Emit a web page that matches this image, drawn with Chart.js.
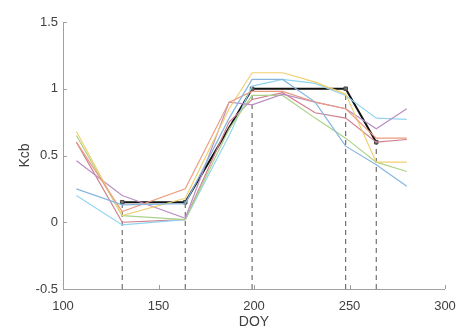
<!DOCTYPE html>
<html>
<head>
<meta charset="utf-8">
<script src="https://cdn.jsdelivr.net/npm/chart.js@4"></script>
<style>
  html, body { margin: 0; padding: 0; background: #fff; }
  #wrap { width: 460px; height: 332px; }
</style>
</head>
<body>
<div id="wrap"><canvas id="kcbChart" width="460" height="332"></canvas></div>
<script>
// day of year for the observed curves
const doy = [107, 131, 164, 187, 199, 215, 232, 248, 264, 280];

// observed Kcb curves (one per field / year)
const yellowVals = [0.68, 0.05, 0.18, 0.85, 1.12, 1.12, 1.05, 0.96, 0.45, 0.45];
const orangeVals = [0.60, 0.08, 0.25, 0.90, 0.98, 0.98, 0.90, 0.85, 0.63, 0.63];
const purpleVals = [0.46, 0.20, 0.03, 0.90, 0.88, 0.96, 0.90, 0.85, 0.70, 0.85];
const blueVals   = [0.25, 0.13, 0.14, 0.78, 1.07, 1.07, 0.90, 0.57, 0.43, 0.27];
const greenVals  = [0.65, 0.05, 0.02, 0.70, 0.95, 0.95, 0.78, 0.63, 0.45, 0.38];
const cyanVals   = [0.20, -0.02, 0.02, 0.65, 1.02, 1.07, 1.04, 0.95, 0.78, 0.77];
const redVals    = [0.60, 0.00, 0.02, 0.75, 0.92, 0.97, 0.82, 0.78, 0.60, 0.62];

// fitted crop coefficient curve (stage boundaries)
const kcbDoy    = [131, 164, 199, 248, 264];
const kcbValues = [0.15, 0.15, 1.0, 1.0, 0.6];

// tick labels
const xTicks = [100, 150, 200, 250, 300];
const yTicks = [-0.5, 0, 0.5, 1, 1.5];

const curves = [
    { vals: blueVals,   color: '#86b6de' },
    { vals: orangeVals, color: '#eb9c80' },
    { vals: yellowVals, color: '#f1cf72' },
    { vals: purpleVals, color: '#b98ec4' },
    { vals: greenVals,  color: '#acd289' },
    { vals: cyanVals,   color: '#93d5f0' },
    { vals: redVals,    color: '#cf7f8e' }
];

const datasets = [];

curves.forEach(c => {
    datasets.push({
        data: doy.map((d, i) => ({ x: d, y: c.vals[i] })),
        borderColor: c.color,
        borderWidth: 1.2,
        pointRadius: 0,
        tension: 0
    });
});

// dashed drop lines from each stage point
kcbDoy.forEach((d, i) => {
    datasets.push({
        data: [{ x: d, y: -0.5 }, { x: d, y: kcbValues[i] }],
        borderColor: '#555555',
        borderWidth: 1,
        borderDash: [5, 4],
        pointRadius: 0
    });
});

datasets.push({
    data: kcbDoy.map((d, i) => ({ x: d, y: kcbValues[i] })),
    borderColor: '#111111',
    borderWidth: 2,
    pointStyle: 'rect',
    pointRadius: 2.5,
    pointBackgroundColor: '#777777',
    pointBorderColor: '#444444',
    pointBorderWidth: 1
});

// MATLAB style axes: grey spine on left/bottom, ticks pointing inward
const inwardTicks = {
    id: 'inwardTicks',
    afterDatasetsDraw(chart) {
        const { ctx, chartArea: a, scales: { x, y } } = chart;
        ctx.save();
        ctx.strokeStyle = '#a0a0a0';
        ctx.lineWidth = 1;
        ctx.beginPath();
        ctx.moveTo(a.left + 0.5, a.top);
        ctx.lineTo(a.left + 0.5, a.bottom + 0.5);
        ctx.lineTo(a.right, a.bottom + 0.5);
        xTicks.forEach(t => {
            const px = Math.round(x.getPixelForValue(t)) + 0.5;
            ctx.moveTo(px, a.bottom);
            ctx.lineTo(px, a.bottom - 4);
        });
        yTicks.forEach(t => {
            const py = Math.round(y.getPixelForValue(t)) + 0.5;
            ctx.moveTo(a.left, py);
            ctx.lineTo(a.left + 4, py);
        });
        ctx.stroke();
        ctx.restore();
    }
};

const font = { family: '"Liberation Sans", Arial, sans-serif', size: 13 };

new Chart(document.getElementById('kcbChart').getContext('2d'), {
    type: 'line',
    data: { datasets: datasets },
    options: {
        responsive: false,
        animation: false,
        layout: { padding: { top: 22, right: 15, left: 0, bottom: 0 } },
        plugins: {
            legend: { display: false },
            tooltip: { enabled: false }
        },
        scales: {
            x: {
                type: 'linear',
                min: 100,
                max: 300,
                afterFit: s => { s.height = 43; s.paddingRight = 0; s.paddingLeft = 0; },
                afterBuildTicks: s => { s.ticks = xTicks.map(v => ({ value: v })); },
                grid: { display: false, drawTicks: false },
                border: { display: false },
                ticks: { color: '#404040', font: font, padding: 10 },
                title: { display: true, text: 'DOY', color: '#404040', font: { family: font.family, size: 14 }, padding: { top: 4, bottom: 1 } }
            },
            y: {
                type: 'linear',
                min: -0.5,
                max: 1.5,
                afterFit: s => { s.width = 63; s.paddingTop = 0; s.paddingBottom = 0; },
                afterBuildTicks: s => { s.ticks = yTicks.map(v => ({ value: v })); },
                grid: { display: false, drawTicks: false },
                border: { display: false },
                ticks: { color: '#404040', font: font, padding: 5, callback: v => String(v) },
                title: { display: true, text: 'Kcb', color: '#404040', font: { family: font.family, size: 14 }, padding: { top: 17, bottom: 0 } }
            }
        }
    },
    plugins: [inwardTicks]
});
</script>
</body>
</html>
